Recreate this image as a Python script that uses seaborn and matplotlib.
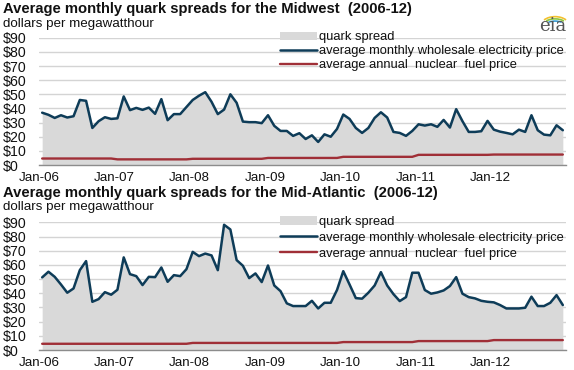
import numpy as np
import pandas as pd
import matplotlib.pyplot as plt
import seaborn as sns
from matplotlib.patches import Arc

# Monthly values, Jan 2006 - Dec 2012
YEARS = ["2006", "2007", "2008", "2009", "2010", "2011", "2012"]
TICK_LABELS = ["Jan-06", "Jan-07", "Jan-08", "Jan-09", "Jan-10", "Jan-11", "Jan-12", ""]

midwest_elec = [
    37, 35.5, 33.3, 35.2, 33.6, 34.5, 46, 45.4, 26.2, 31, 33.8, 32.6,
    33, 48.5, 38.8, 40.4, 39, 40.6, 36.2, 46.6, 31.7, 36, 36, 41,
    46, 49, 51.5, 44.7, 36, 39.2, 50, 44, 30.7, 30.3, 30.3, 29.6,
    35.2, 27.7, 24.1, 24.1, 20.6, 22.5, 18.4, 21, 16.3, 21.7, 20, 25.5,
    35.7, 32.6, 26.2, 22.7, 26.2, 33.3, 37.3, 33.6, 23.4, 22.7, 20.6, 24.1,
    28.8, 27.9, 28.8, 27, 31.9, 26.5, 39.5, 31, 23.4, 23.4, 23.9, 31.2,
    25, 23.6, 22.7, 21.7, 25, 23.4, 35.2, 24.6, 21.5, 21, 28.1, 24.6,
]
midwest_nuclear = [4.6, 4.0, 4.4, 5.0, 5.8, 7.2, 7.4]

midatl_elec = [
    51.2, 55.2, 51.6, 46.2, 40.4, 43.4, 56.3, 62.7, 34, 35.9, 40.8, 39,
    42.5, 65.3, 53.5, 52.1, 45.8, 51.6, 51.4, 58.2, 48.1, 52.8, 52.1, 57,
    69.2, 66.2, 68, 66.7, 56.3, 88.3, 85, 63.4, 59.4, 50.7, 54, 47.9,
    59.6, 45.5, 41.5, 32.9, 31, 31, 31, 34.7, 29.3, 33.3, 33.3, 42.3,
    55.6, 46.2, 36.6, 36.2, 40.4, 45.5, 54.9, 45.5, 39.4, 34.5, 37.3, 54.5,
    54.5, 42.3, 39.7, 40.6, 42, 45.1, 51.4, 39.7, 37.3, 36.4, 34.7, 34,
    33.6, 31.7, 29.3, 29.3, 29.3, 29.8, 37.6, 31, 31, 33.3, 38.7, 31.7,
]
midatl_nuclear = [4.4, 4.4, 5.0, 5.0, 5.6, 6.3, 7.0]

ELEC_COLOR = "#0e3c58"
NUC_COLOR = "#a02f37"
FILL_COLOR = "#d9d9d9"
GRID_COLOR = "#d4d4d4"
TEXT_COLOR = "#111111"


def build_frame(elec, nuclear_annual):
    df = pd.DataFrame({"month": np.arange(len(elec)) + 0.5, "electricity": elec})
    df["nuclear"] = np.repeat(nuclear_annual, 12)
    return df


def draw_panel(ax, df):
    ax.fill_between(df["month"], 0, df["electricity"], color=FILL_COLOR,
                    linewidth=0, label="quark spread")
    sns.lineplot(data=df, x="month", y="electricity", ax=ax, color=ELEC_COLOR,
                 linewidth=1.8, label="average monthly wholesale electricity price")
    sns.lineplot(data=df, x="month", y="nuclear", ax=ax, color=NUC_COLOR,
                 linewidth=1.7, label="average annual  nuclear  fuel price")

    ax.set_xlim(0, 84)
    ax.set_ylim(0, 90)
    ax.set_yticks(range(0, 91, 10))
    ax.set_yticklabels([f"${v}" for v in range(0, 91, 10)])
    ax.set_xticks(range(0, 85, 12))
    ax.set_xticklabels(TICK_LABELS)
    ax.set_xlabel("")
    ax.set_ylabel("")

    ax.grid(axis="y", color=GRID_COLOR, linewidth=1)
    ax.grid(axis="x", visible=False)
    ax.set_axisbelow(True)
    for side in ["top", "right", "left"]:
        ax.spines[side].set_visible(False)
    ax.spines["bottom"].set_color("#8c8c8c")
    ax.spines["bottom"].set_linewidth(1)
    ax.tick_params(axis="x", length=4, color="#8c8c8c", labelsize=9.6,
                   labelcolor=TEXT_COLOR, pad=1)
    # y labels are left-aligned at the figure edge
    ax.tick_params(axis="y", length=0, labelsize=10.2, labelcolor=TEXT_COLOR, pad=26)
    for lab in ax.get_yticklabels():
        lab.set_horizontalalignment("left")


def add_legend(ax, anchor_y, spacing):
    leg = ax.legend(loc="upper left", bbox_to_anchor=(0.457, anchor_y), frameon=False,
                    fontsize=9.3, handlelength=2.9, handleheight=0.65, handletextpad=0.1,
                    labelspacing=spacing, borderaxespad=0, borderpad=0)
    for txt in leg.get_texts():
        txt.set_color(TEXT_COLOR)


def add_logo(fig):
    fig.text(0.963, 0.955, "eia", ha="center", va="top", fontsize=13,
             family="DejaVu Serif", color="#555555")
    colors = ["#f2c12e", "#8dc63f", "#3aa0d8"]
    for i, c in enumerate(colors):
        arc = Arc((0.963 + 0.004, 0.93), 0.05 - i * 0.008, 0.05 - i * 0.012,
                  theta1=40, theta2=140, color=c, lw=1.2,
                  transform=fig.transFigure)
        fig.add_artist(arc)


if __name__ == "__main__":
    sns.set_style("white")
    plt.rcParams["font.family"] = ["Liberation Sans", "DejaVu Sans"]

    fig = plt.figure(figsize=(5.74, 3.70), dpi=100)
    ax1 = fig.add_axes([0.068, 0.554, 0.918, 0.344])
    ax2 = fig.add_axes([0.068, 0.054, 0.918, 0.345])

    draw_panel(ax1, build_frame(midwest_elec, midwest_nuclear))
    draw_panel(ax2, build_frame(midatl_elec, midatl_nuclear))
    add_legend(ax1, 1.05, 0.15)
    add_legend(ax2, 1.05, 0.3)

    fig.text(0.005, 0.976, "Average monthly quark spreads for the Midwest  (2006-12)",
             fontsize=10.6, fontweight="bold", color=TEXT_COLOR, va="center")
    fig.text(0.005, 0.935, "dollars per megawatthour", fontsize=9.6,
             color=TEXT_COLOR, va="center")
    fig.text(0.005, 0.478, "Average monthly quark spreads for the Mid-Atlantic  (2006-12)",
             fontsize=10.6, fontweight="bold", color=TEXT_COLOR, va="center")
    fig.text(0.005, 0.44, "dollars per megawatthour", fontsize=9.6,
             color=TEXT_COLOR, va="center")
    add_logo(fig)

    fig.savefig("out.png", dpi=100)
